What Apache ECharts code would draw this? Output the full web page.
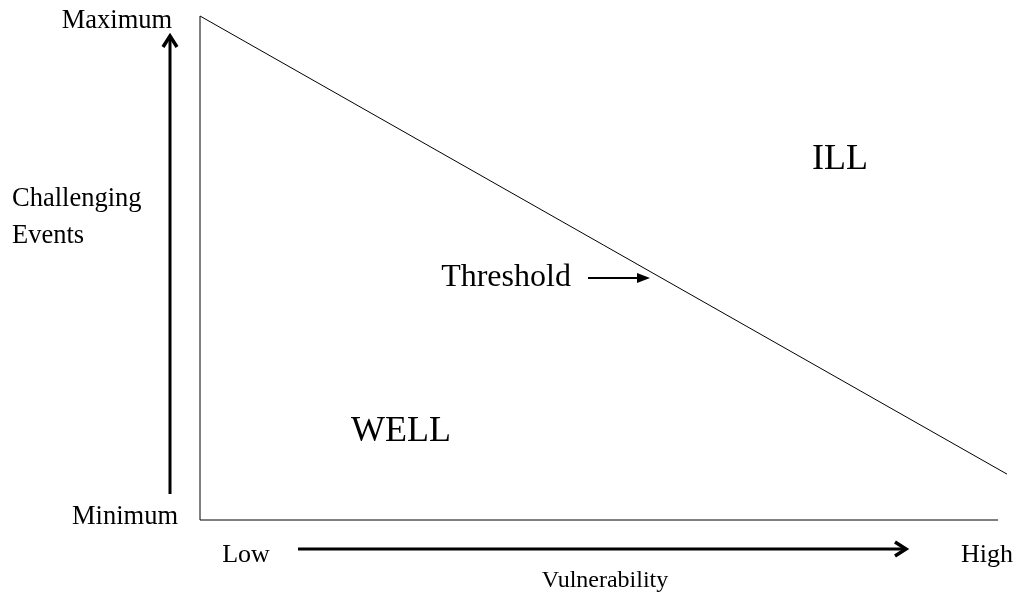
<!DOCTYPE html>
<html>
<head>
<meta charset="utf-8">
<script src="https://cdn.jsdelivr.net/npm/echarts@6/dist/echarts.min.js"></script>
<style>
  html, body { margin: 0; padding: 0; background: #fff; }
  #root { width: 1017px; height: 596px; }
</style>
</head>
<body>
<div id="root"></div>
<script>
// 数据：阈值线（易感性 0-100，挑战事件 0-100）
const thresholdLine = [[0, 100], [100, 9.1]];
const yAxisLine = [[0, 0], [0, 100]];
const xAxisLine = [[0, 0], [98.9, 0]];
const yLabels = ['Maximum', 'Minimum'];
const xLabels = ['Low', 'High'];
const regionLabels = ['ILL', 'WELL'];

const FONT = "'Liberation Serif', 'Times New Roman', serif";
const INK = '#000';

const txt = (text, x, y, size, align) => ({
  type: 'text',
  style: {
    text,
    x,
    y,
    fill: INK,
    font: `${size}px ${FONT}`,
    textAlign: align || 'center',
    textVerticalAlign: 'middle',
  },
});

const thickLine = (x1, y1, x2, y2, w) => ({
  type: 'line',
  shape: { x1, y1, x2, y2 },
  style: { stroke: INK, lineWidth: w },
});

const _graphic = [
  txt(yLabels[0], 117, 21, 26.5),
  txt(yLabels[1], 125, 517, 26.5),
  txt('Challenging', 12, 199, 26.5, 'left'),
  txt('Events', 12, 236, 26.5, 'left'),
  txt(xLabels[0], 246, 555, 26),
  txt(xLabels[1], 987, 555, 26),
  txt('Vulnerability', 605, 581, 24),
  txt('Threshold', 506, 278, 32),
  txt(regionLabels[0], 840, 160, 36),
  txt(regionLabels[1], 401, 432, 36),
  // 纵向箭头
  thickLine(170, 494, 170, 37, 3),
  {
    type: 'polyline',
    shape: { points: [[163, 47], [170, 36], [177, 47]] },
    style: { stroke: INK, lineWidth: 3.5, fill: null },
  },
  // 横向箭头
  thickLine(298, 549, 905, 549, 3),
  {
    type: 'polyline',
    shape: { points: [[895, 542], [906, 549], [895, 556]] },
    style: { stroke: INK, lineWidth: 3.5, fill: null },
  },
  // Threshold 箭头
  thickLine(588, 278, 640, 278, 2),
  {
    type: 'polygon',
    shape: { points: [[637, 273], [650, 278], [637, 283]] },
    style: { fill: INK },
  },
];

const lineSeries = (data, w) => ({
  type: 'line',
  data,
  symbol: 'none',
  silent: true,
  clip: false,
  lineStyle: { color: INK, width: w },
});

const options = {
  animation: false,
  grid: { left: 200, top: 16, width: 807, height: 504 },
  xAxis: { type: 'value', min: 0, max: 100, show: false },
  yAxis: { type: 'value', min: 0, max: 100, show: false },
  graphic: _graphic,
  series: [
    lineSeries(thresholdLine, 1),
    lineSeries(yAxisLine, 1),
    lineSeries(xAxisLine, 1),
  ],
};

const myChart = echarts.init(document.getElementById('root'));
myChart.setOption(options);
</script>
</body>
</html>
